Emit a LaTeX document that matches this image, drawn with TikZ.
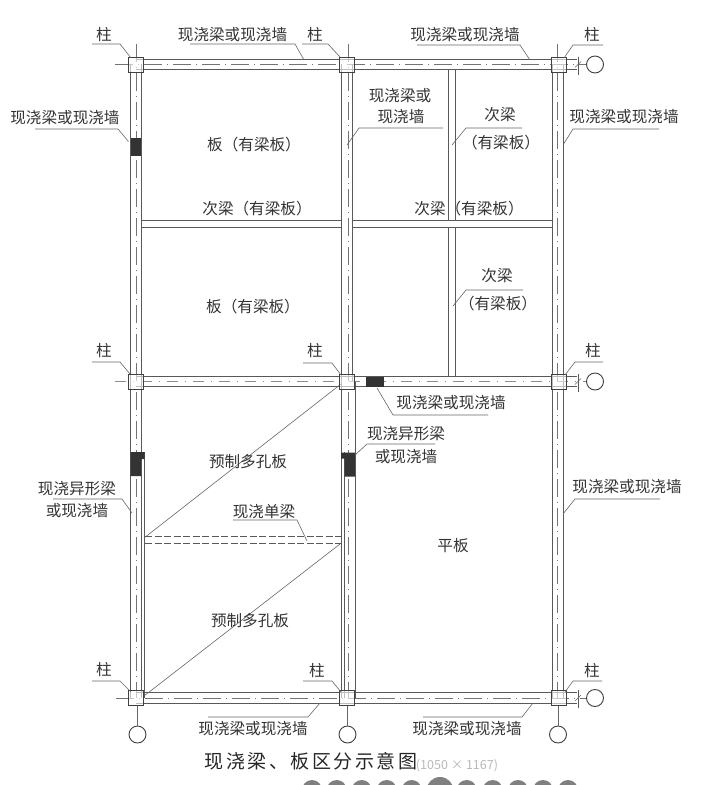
\documentclass[tikz,border=0pt]{standalone}
\usepackage{fontspec}
\setmainfont{Noto Sans CJK SC}
\newfontfamily\titlefont[LetterSpace=13]{Noto Sans CJK SC}
\tikzset{
	wall/.style={draw=black!65, line width=0.9pt},
	axis/.style={draw=black!55, line width=0.6pt, dash pattern=on 18pt off 5pt on 1pt off 5pt},
	fineaxis/.style={draw=black!45, line width=0.6pt, dash pattern=on 11pt off 7pt on 1pt off 7pt},
	leader/.style={draw=black!60, line width=0.6pt},
	lbl/.style={font=\fontsize{15.6}{16}\selectfont, text=black!80, inner sep=0pt},
	colbox/.style={draw=black!75, fill=white, fill opacity=0.6, line width=1pt, minimum size=15pt, inner sep=0pt},
	ringnode/.style={circle, draw=black!75, fill=white, line width=0.9pt, minimum size=17pt, inner sep=0pt},
}
\begin{document}
\begin{tikzpicture}[x=1pt, y=-1pt]
\useasboundingbox (0,0) rectangle (723,785);
% upper columns
\foreach \x in {136,347}{
	\draw[wall] (\x-5.5,64) -- (\x-5.5,381);
	\draw[wall] (\x+5.5,64) -- (\x+5.5,381);
}
\draw[wall] (552.5,64) -- (552.5,698);
\draw[wall] (563.5,64) -- (563.5,698);
% lower columns
\draw[wall] (130.5,381) -- (130.5,698);
\draw[wall] (141,381) -- (141,698);
\draw[wall] (144.5,452) -- (144.5,698);
\draw[wall] (341,381) -- (341,698);
\draw[wall] (344.5,452) -- (344.5,698);
\draw[wall] (355,381) -- (355,698);
% column axes
\draw[axis] (136,44) -- (136,698);
\draw[axis] (348,44) -- (348,698);
\draw[axis] (557.5,44) -- (557.5,698);
% frame beams
\foreach \y in {64.5,381.5,698}{
	\draw[wall] (136,\y-5.2) -- (577,\y-5.2);
	\draw[wall] (136,\y+5.2) -- (577,\y+5.2);
	\draw[wall] (578,\y-8) -- (578,\y+10);
	\draw[leader] (575,\y+3) -- (581,\y-3);
}
\draw[axis] (115,64.5) -- (586,64.5);
\draw[fineaxis] (115,381.5) -- (586,381.5);
\draw[axis] (116,698) -- (586,698);
% secondary beams
\foreach \y in {220.5,227}{
	\draw[wall] (141.5,\y) -- (341.5,\y);
	\draw[wall] (352.5,\y) -- (552.5,\y);
}
\foreach \x in {448,455.5}{
	\draw[wall] (\x,70) -- (\x,220.5);
	\draw[wall] (\x,227) -- (\x,376);
}
% cast single beam
\foreach \y in {536,543.5}{
	\draw[wall, dash pattern=on 7pt off 2.5pt] (145,\y) -- (341,\y);
}
% precast slab joints
\draw[leader] (144,538) -- (341,384);
\draw[leader] (144,696) -- (340,544);
% solid parts
\fill[black!80] (130.5,138) rectangle (140.5,155.5);
\fill[black!80] (366,376.5) rectangle (384,387);
\fill[black!80] (130.5,452) -- (144.5,452) -- (144.5,459) -- (141,459) -- (141,476) -- (130.5,476) -- cycle;
\fill[black!80] (341,452.5) -- (355,452.5) -- (355,476.5) -- (344.5,476.5) -- (344.5,458.5) -- (341,458.5) -- cycle;
% columns and rings
\foreach \x/\cn in {136/a,347/b,558.5/c}{
	\foreach \y/\rn in {64.5/1,381.5/2,698/3}{
		\node[colbox] (col\cn\rn) at (\x,\y) {};
	}
}
\foreach \y/\rn in {64.5/1,381.5/2,698/3}{
	\node[ringnode] (ringr\rn) at (595,\y) {};
}
\foreach \x/\cn in {137.5/a,347.5/b,558/c}{
	\node[ringnode] (ringb\cn) at (\x,734.5) {};
	\draw[leader] (ringb\cn.north |- col\cn3.south) -- (ringb\cn.north);
}
% column tags
\foreach \x/\y/\n in {104/35/a1,315/35/b1,592/35/c1,104/351/a2,315/351/b2,593/351/c2,104/670/a3,317/671/b3,592/671/c3}{
	\node[lbl] (tag\n) at (\x,\y) {柱};
}
\foreach \a/\b/\c/\d/\e/\f in {92/44/120/44/131/58, 302/44/328/44/340/57, 603/45/573/45/564/58,
	92/362/120/362/130/374, 303/363/332/363/341/375, 603/362/575/362/565/375,
	92/681/120/681/131/692, 303/681/332/681/341/692, 602/681/573/681/565/692,
	190/44/295/44/304/60, 417/45/520/45/530/60, 35/129/118/129/128.5/141.5,
	443/128/359/128/347/145, 522/128/466/128/452/145, 659/129/573/129/563/145,
	523/290/466/290/453/306, 488/415/393/415/377/388, 435/444/367/444/355/455,
	53/499/122/499/132/513, 660/499/575/499/563/514, 233/520/297/520/307/541,
	208/717/308/717/320/703, 423/717/522/717/533/703}{
	\draw[leader] (\a,\b) -- (\c,\d) -- (\e,\f);
}
% labels
\node[lbl] (beamtopa) at (232.5,35) {现浇梁或现浇墙};
\node[lbl] (beamtopb) at (465,35) {现浇梁或现浇墙};
\node[lbl] (beamleft) at (65,118) {现浇梁或现浇墙};
\node[lbl] (beamright) at (624,117) {现浇梁或现浇墙};
\node[lbl] (beammida) at (400,96) {现浇梁或};
\node[lbl] (beammidb) at (401,117) {现浇墙};
\node[lbl] (seca) at (500,115) {次梁};
\node[lbl] (secb) at (501,143) {（有梁板）};
\node[lbl] (secc) at (257,209) {次梁（有梁板）};
\node[lbl] (secd) at (469,209) {次梁（有梁板）};
\node[lbl] (sece) at (497,276) {次梁};
\node[lbl] (secf) at (498,304) {（有梁板）};
\node[lbl] (slaba) at (254,145) {板（有梁板）};
\node[lbl] (slabb) at (253,307) {板（有梁板）};
\node[lbl] (beamrow) at (451,403) {现浇梁或现浇墙};
\node[lbl] (oddmida) at (406,434) {现浇异形梁};
\node[lbl] (oddmidb) at (406,457) {或现浇墙};
\node[lbl] (oddlefta) at (77,489) {现浇异形梁};
\node[lbl] (oddleftb) at (77,511) {或现浇墙};
\node[lbl] (beamrightb) at (627,487) {现浇梁或现浇墙};
\node[lbl] (precasta) at (248,462) {预制多孔板};
\node[lbl] (single) at (264,512) {现浇单梁};
\node[lbl] (precastb) at (250,621) {预制多孔板};
\node[lbl] (flat) at (453,546) {平板};
\node[lbl] (beambota) at (253,729) {现浇梁或现浇墙};
\node[lbl] (beambotb) at (467,729) {现浇梁或现浇墙};
% caption
\node[inner sep=0pt, text=black!85, font=\titlefont\fontsize{19}{20}\selectfont] (caption) at (311,761) {现浇梁、板区分示意图};
\node[inner sep=0pt, text=black!28, font=\fontsize{12.5}{14}\selectfont] (sizenote) at (457,766) {(1050 × 1167)};
% bottom dots
\begin{scope}
\clip (0,0) rectangle (723,785);
\foreach \x in {312,336.7,361.7,386.7,411.7,466.7,492.7,518,543,568}{
	\fill[black!50] (\x,790) circle (10);
}
\fill[black!50] (440,790.5) circle (13.5);
\end{scope}
\end{tikzpicture}
\end{document}
